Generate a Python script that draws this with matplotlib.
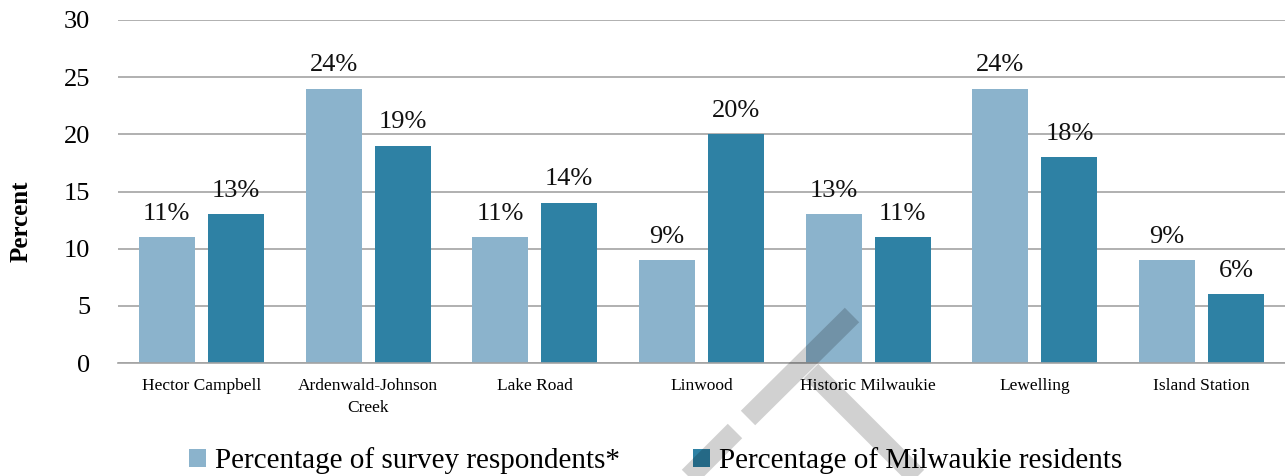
import matplotlib
matplotlib.use("Agg")
import matplotlib.pyplot as plt
from matplotlib.lines import Line2D
import numpy as np

# Neighborhood shares
neighborhoods = ["Hector Campbell", "Ardenwald-Johnson\nCreek", "Lake Road", "Linwood",
                 "Historic Milwaukie", "Lewelling", "Island Station"]
respondents_pct = [11, 24, 11, 9, 13, 24, 9]
residents_pct = [13, 19, 14, 20, 11, 18, 6]
series_names = ["Percentage of survey respondents*", "Percentage of Milwaukie residents"]
y_ticks = [0, 5, 10, 15, 20, 25, 30]

LIGHT = "#8BB3CC"
DARK = "#2E81A4"
GRID = "#A3A3A3"

plt.rcParams["font.family"] = ["Liberation Serif", "DejaVu Serif"]

W, H = 1285, 476
fig = plt.figure(figsize=(W / 100, H / 100), dpi=100)
ax = fig.add_axes([118 / W, 1 - 363 / H, 1 - 118 / W, (363 - 20) / H])

x = np.arange(len(neighborhoods))
bw = 0.336
off = 0.207
b1 = ax.bar(x - off, respondents_pct, bw, color=LIGHT, label=series_names[0], zorder=2)
b2 = ax.bar(x + off, residents_pct, bw, color=DARK, label=series_names[1], zorder=2)

for bars, vals in ((b1, respondents_pct), (b2, residents_pct)):
    for rect, v in zip(bars, vals):
        ax.annotate(f"{v}%", (rect.get_x() + rect.get_width() / 2, v),
                    xytext=(0, 9), textcoords="offset points",
                    ha="center", va="bottom", fontsize=19, color="#111111")

ax.set_xlim(-0.5, len(neighborhoods) - 0.5)
ax.set_ylim(0, 30)
ax.set_yticks(y_ticks)
ax.set_yticklabels([str(t) for t in y_ticks], fontsize=19)
ax.set_xticks(x)
ax.set_xticklabels(neighborhoods, fontsize=12.5, linespacing=1.45)
ax.tick_params(axis="y", length=0, pad=20)
ax.tick_params(axis="x", length=0, pad=11)
ax.yaxis.grid(True, color=GRID, linewidth=1.2, zorder=0)
ax.set_axisbelow(True)
for s in ["top", "right", "left"]:
    ax.spines[s].set_visible(False)
ax.spines["bottom"].set_color(GRID)
ax.spines["bottom"].set_linewidth(1.2)

ax.set_ylabel("Percent", fontsize=18, fontweight="bold")
ax.yaxis.set_label_coords(-0.073, 0.414)

leg = fig.legend(handles=[b1, b2], loc="center", bbox_to_anchor=(0.51, 1 - 461 / H),
                 ncol=2, frameon=False, fontsize=21, handlelength=0.6, handleheight=0.6,
                 handletextpad=0.3, columnspacing=2.5)

# Grey "draft" watermark strokes drawn in pixel space
def px(pts):
    xs = [p[0] / W for p in pts]
    ys = [1 - p[1] / H for p in pts]
    return xs, ys

wm = dict(color="black", alpha=0.18, linewidth=14.7, solid_capstyle="butt",
          transform=fig.transFigure, zorder=10)
for seg in ([(852, 315), (748, 418)], [(735, 431), (600, 566)], [(811, 371), (960, 520)]):
    xs, ys = px(seg)
    fig.add_artist(Line2D(xs, ys, **wm))

fig.savefig("out.png", dpi=100)
